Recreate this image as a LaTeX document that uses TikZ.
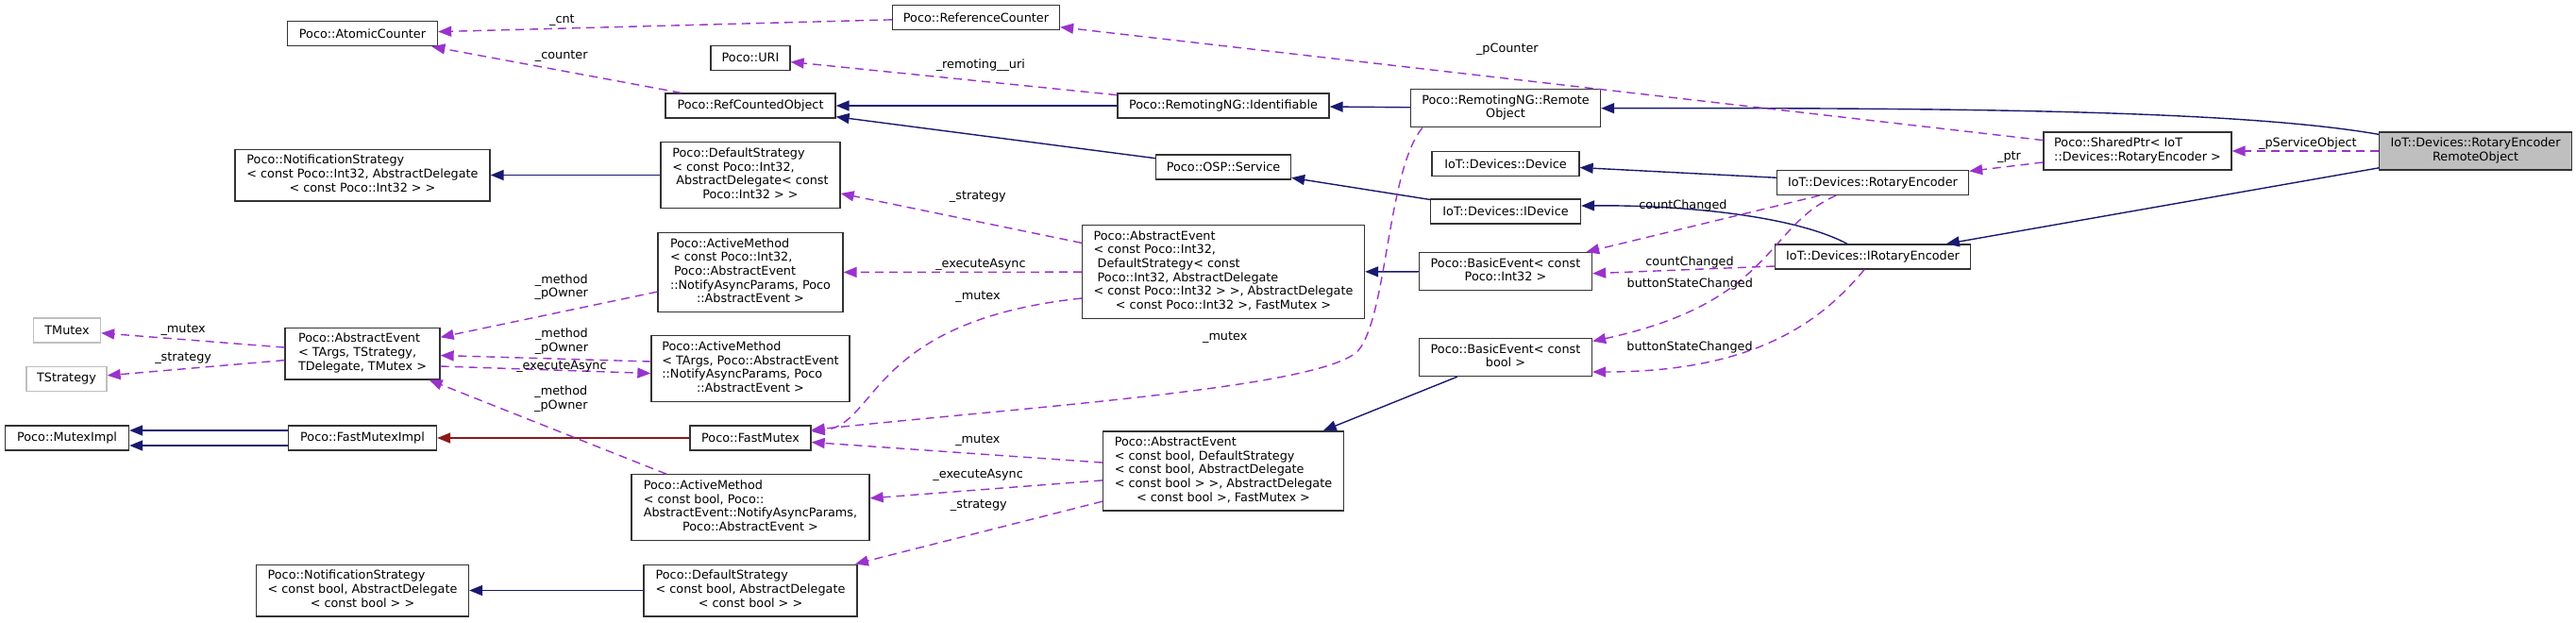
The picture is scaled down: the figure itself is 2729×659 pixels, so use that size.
\documentclass[tikz,border=0pt]{standalone}
\usepackage{fontspec}
\setmainfont{DejaVu Sans}
\usepackage{tikz}
\usetikzlibrary{arrows.meta, positioning}
\definecolor{inhblue}{HTML}{191970}
\definecolor{usepurple}{HTML}{9A32CD}
\definecolor{privred}{HTML}{8B1A1A}
\definecolor{boxgrey}{HTML}{BFBFBF}
\newcommand{\leftrows}[1]{\begin{tabular}{@{}l@{}}#1\end{tabular}}
\newcommand{\midrows}[1]{\begin{tabular}{@{}c@{}}#1\end{tabular}}
\newcommand{\lastrow}[1]{\multicolumn{1}{@{}c@{}}{#1}}

\begin{document}
\begin{tikzpicture}[
    x=1pt, y=-1pt,
    every node/.style={font=\fontsize{12.8}{14.7}\selectfont},
    cls/.style={
        rectangle,
        draw=black!80,
        fill=white,
        line width=1.3pt,
        inner xsep=4pt,
        inner ysep=5.3pt,
        minimum height=26pt
    },
    tmpl/.style={cls, draw=boxgrey},
    focus/.style={cls, fill=boxgrey},
    lbl/.style={text=black, inner sep=1pt, align=center},
    inh/.style={-{Triangle[length=14pt, width=11pt]}, line width=1.4pt, color=inhblue},
    priv/.style={inh, color=privred},
    usage/.style={inh, color=usepurple, dash pattern=on 9pt off 6pt}
]
\useasboundingbox (0,0) rectangle (2729,659);

\node[cls, minimum width=159pt] (atomic) at (384,35.7) {Poco::AtomicCounter};
\node[cls, minimum width=177pt] (refcnt) at (1034,18.5) {Poco::ReferenceCounter};
\node[cls, minimum width=84pt] (uri) at (795,61.3) {Poco::URI};
\node[cls, minimum width=180pt] (rcobj) at (795,112) {Poco::RefCountedObject};
\node[cls, minimum width=224pt] (ident) at (1296,112) {Poco::RemotingNG::Identifiable};
\node[cls, minimum width=201pt] (remobj) at (1595,114.7) {\midrows{Poco::RemotingNG::Remote\\Object}};
\node[cls, minimum width=199pt] (sptr) at (2264.5,160) {\leftrows{Poco::SharedPtr< IoT\\::Devices::RotaryEncoder >}};
\node[focus, minimum width=204pt] (main) at (2622.6,160) {\midrows{IoT::Devices::RotaryEncoder\\RemoteObject}};
\node[cls, minimum width=270pt] (notifint) at (384,185.5) {\leftrows{Poco::NotificationStrategy\\< const Poco::Int32, AbstractDelegate\\\lastrow{< const Poco::Int32 > >}}};
\node[cls, minimum width=190pt] (defint) at (795,185.5) {\leftrows{Poco::DefaultStrategy\\< const Poco::Int32,\\\ AbstractDelegate< const\\\lastrow{Poco::Int32 > >}}};
\node[cls, minimum width=143pt] (service) at (1296,177) {Poco::OSP::Service};
\node[cls, minimum width=156pt] (device) at (1595,173.5) {IoT::Devices::Device};
\node[cls, minimum width=159pt] (idevice) at (1595,224) {IoT::Devices::IDevice};
\node[cls, minimum width=203pt] (rotenc) at (1984,193.5) {IoT::Devices::RotaryEncoder};
\node[cls, minimum width=207pt] (irotenc) at (1984,272) {IoT::Devices::IRotaryEncoder};
\node[cls, minimum width=196pt] (actint) at (795,288.5) {\leftrows{Poco::ActiveMethod\\< const Poco::Int32,\\\ Poco::AbstractEvent\\::NotifyAsyncParams, Poco\\\lastrow{::AbstractEvent >}}};
\node[cls, minimum width=299pt] (evint) at (1296,288) {\leftrows{Poco::AbstractEvent\\< const Poco::Int32,\\\ DefaultStrategy< const\\\ Poco::Int32, AbstractDelegate\\< const Poco::Int32 > >, AbstractDelegate\\\lastrow{< const Poco::Int32 >, FastMutex >}}};
\node[cls, minimum width=183pt] (basicint) at (1595,287.7) {\midrows{Poco::BasicEvent< const\\Poco::Int32 >}};
\node[tmpl, minimum width=71pt] (tmutex) at (71,350) {TMutex};
\node[tmpl, minimum width=85pt] (tstrat) at (70.5,401.5) {TStrategy};
\node[cls, minimum width=164pt] (evt) at (384,374.5) {\leftrows{Poco::AbstractEvent\\< TArgs, TStrategy,\\\lastrow{TDelegate, TMutex >}}};
\node[cls, minimum width=210pt] (actt) at (795,390.5) {\leftrows{Poco::ActiveMethod\\< TArgs, Poco::AbstractEvent\\::NotifyAsyncParams, Poco\\\lastrow{::AbstractEvent >}}};
\node[cls, minimum width=183pt] (basicbool) at (1595,378.5) {\midrows{Poco::BasicEvent< const\\bool >}};
\node[cls, minimum width=131pt] (mutimpl) at (71,464) {Poco::MutexImpl};
\node[cls, minimum width=157pt] (fmimpl) at (384,464) {Poco::FastMutexImpl};
\node[cls, minimum width=128pt] (fmutex) at (795,464) {Poco::FastMutex};
\node[cls, minimum width=255pt] (evbool) at (1296,499) {\leftrows{Poco::AbstractEvent\\< const bool, DefaultStrategy\\< const bool, AbstractDelegate\\< const bool > >, AbstractDelegate\\\lastrow{< const bool >, FastMutex >}}};
\node[cls, minimum width=252pt] (actbool) at (795,537.5) {\leftrows{Poco::ActiveMethod\\< const bool, Poco::\\AbstractEvent::NotifyAsyncParams,\\\lastrow{Poco::AbstractEvent >}}};
\node[cls, minimum width=225pt] (notifbool) at (384,625.5) {\leftrows{Poco::NotificationStrategy\\< const bool, AbstractDelegate\\\lastrow{< const bool > >}}};
\node[cls, minimum width=226pt] (defbool) at (795,625.5) {\leftrows{Poco::DefaultStrategy\\< const bool, AbstractDelegate\\\lastrow{< const bool > >}}};

% INHERITANCE
\draw[inh] (defint) -- (notifint);
\draw[inh] (ident) -- (rcobj);
\draw[inh] (service) -- (rcobj);
\draw[inh] (remobj) -- (ident);
\draw[inh] ([yshift=-3pt]main.north west) .. controls (2380,118) and (2100,114) .. (remobj.east);
\draw[inh] (rotenc) -- (device);
\draw[inh] (idevice) -- (service);
\draw[inh] ([xshift=-27pt]irotenc.north) .. controls (1900,228) and (1780,217) .. ([yshift=6pt]idevice.east);
\draw[inh] (main) -- (irotenc);
\draw[inh] (basicint) -- (evint);
\draw[inh] (basicbool) -- (evbool);
\draw[inh] (defbool) -- (notifbool);
\draw[inh] ([yshift=8pt]fmimpl.west) -- ([yshift=8pt]mutimpl.east);
\draw[inh] ([yshift=-8pt]fmimpl.west) -- ([yshift=-8pt]mutimpl.east);
\draw[priv] (fmutex) -- (fmimpl);

% USAGE
\draw[usage] (refcnt) -- node[lbl, pos=0.727, yshift=9pt] (lcnt) {\_cnt} (atomic);
\draw[usage] (rcobj) -- node[lbl, pos=0.48, yshift=15pt] (lcounter) {\_counter} (atomic);
\draw[usage] (sptr) -- node[lbl, pos=0.545, yshift=31pt] (lpcounter) {\_pCounter} (refcnt);
\draw[usage] (ident) -- node[lbl, pos=0.418, yshift=17pt] (luri) {\_remoting\_\_uri} (uri);
\draw[usage] (evint) -- node[lbl, pos=0.431, yshift=26pt] (lstratint) {\_strategy} (defint);
\draw[usage] (evint) -- node[lbl, pos=0.424, yshift=8pt] (lexecint) {\_executeAsync} (actint);
\draw[usage] ([yshift=-28pt]evint.west) .. controls (920,340) and (930,450) .. ([yshift=7pt]fmutex.east)
    node[lbl, pos=0.15, shift={(-23,-17)}] (lmutexint) {\_mutex};
\draw[usage] ([xshift=13pt]remobj.south west) .. controls (1470,180) and (1470,330) .. (1440,370)
    .. controls (1410,410) and (1100,430) .. ([yshift=8.5pt]fmutex.east)
    node[lbl, pos=0.5, shift={(69,-61)}] (lmutexrem) {\_mutex};
\draw[usage] (evbool) -- node[lbl, pos=0.428, yshift=14pt] (lmutexbool) {\_mutex} (fmutex);
\draw[usage] (evbool) -- node[lbl, pos=0.535, yshift=16pt] (lexecbool) {\_executeAsync} (actbool);
\draw[usage] (evbool) -- node[lbl, pos=0.5, yshift=28.6pt] (lstratbool) {\_strategy} (defbool);
\draw[usage] (actint) -- node[lbl, pos=0.442, yshift=26.3pt] (lmethint) {\_method\\\_pOwner} (evt);
\draw[usage] ([yshift=7.5pt]actt.west) -- node[lbl, pos=0.424, yshift=18.8pt] (lmetht) {\_method\\\_pOwner} ([yshift=-2pt]evt.east);
\draw[usage] ([yshift=-13.5pt]evt.east) -- node[lbl, pos=0.576, yshift=4.4pt] (lexect) {\_executeAsync} ([yshift=-5pt]actt.west);
\draw[usage] (actbool) -- node[lbl, pos=0.444, yshift=35.4pt] (lmethbool) {\_method\\\_pOwner} (evt);
\draw[usage] (evt) -- node[lbl, pos=0.552, yshift=10.6pt] (lmutext) {\_mutex} (tmutex);
\draw[usage] (evt) -- node[lbl, pos=0.571, yshift=10.9pt] (lstratt) {\_strategy} (tstrat);
\draw[usage] (sptr) -- node[lbl, pos=0.458, yshift=9.6pt] (lptr) {\_ptr} (rotenc);
\draw[usage] (main) -- node[lbl, pos=0.483, yshift=8.3pt] (lsvc) {\_pServiceObject} (sptr);
\draw[usage] (rotenc) -- node[lbl, pos=0.585, yshift=23.8pt] (lcountenc) {countChanged} (basicint);
\draw[usage] ([yshift=-10pt]irotenc.west) -- node[lbl, pos=0.466, yshift=7.3pt] (lcountienc) {countChanged} ([yshift=-2pt]basicint.east);
\draw[usage] ([xshift=-39pt]rotenc.south) .. controls (1870,240) and (1880,320) .. ([yshift=17pt]basicbool.east)
    node[lbl, pos=0.5, shift={(-70,20)}] (lbtnenc) {buttonStateChanged};
\draw[usage] ([xshift=-9pt]irotenc.south) .. controls (1930,340) and (1860,394) .. ([yshift=-15.5pt]basicbool.east)
    node[lbl, pos=0.5, shift={(-89,8)}] (lbtnienc) {buttonStateChanged};

\end{tikzpicture}
\end{document}
